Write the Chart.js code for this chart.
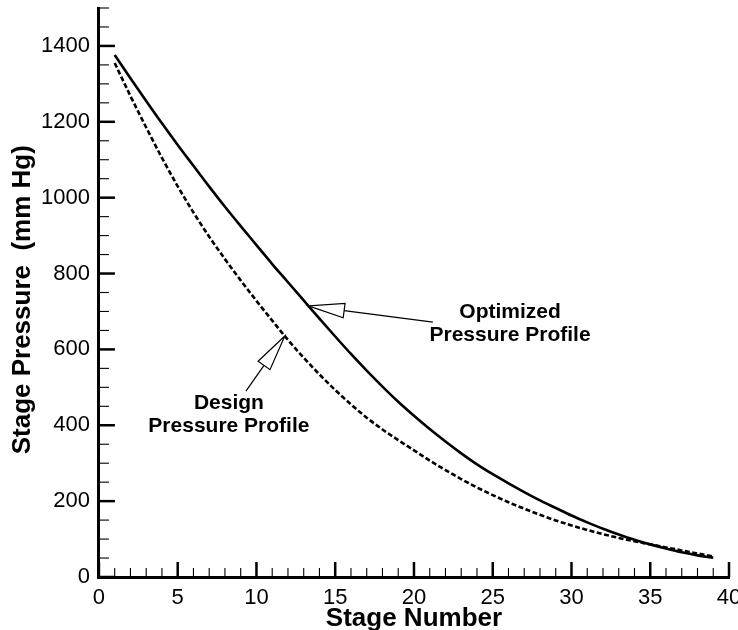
<!DOCTYPE html>
<html>
<head>
<meta charset="utf-8">
<script src="https://cdn.jsdelivr.net/npm/chart.js@4/dist/chart.umd.min.js"></script>
<style>
  html, body { margin: 0; padding: 0; background: #fff; overflow: hidden; }
  #wrap { width: 738px; height: 630px; position: relative; }
</style>
</head>
<body>
<div id="wrap"><canvas id="c"></canvas></div>
<script>
// Stage numbers along the cascade
const stages = [1, 2, 3, 4, 5, 6, 7, 8, 9, 10, 11, 12, 13, 14, 15, 16, 17, 18, 19, 20,
                21, 22, 23, 24, 25, 26, 27, 28, 29, 30, 31, 32, 33, 34, 35, 36, 37, 38, 39];

// Stage pressure (mm Hg), optimized profile
const optimizedPressure = [1376, 1315, 1255, 1196, 1139, 1084, 1029, 976, 925, 875,
                           825, 777, 729, 681, 634, 588, 544, 502, 462, 425,
                           390, 357, 326, 297, 271, 247, 224, 202, 182, 162,
                           144, 127, 112, 98, 86, 75, 65, 57, 51];

// Stage pressure (mm Hg), design profile
const designPressure = [1355, 1268, 1185, 1105, 1030, 961, 897, 838, 782, 728,
                        676, 625, 578, 534, 493, 455, 420, 389, 361, 334,
                        307, 282, 258, 236, 216, 197, 180, 164, 149, 136,
                        124, 113, 103, 94, 86, 78, 70, 62, 54];

// Labelled tick values
const xTickValues = [0, 5, 10, 15, 20, 25, 30, 35, 40];
const yTickValues = [0, 200, 400, 600, 800, 1000, 1200, 1400];

// Callout labels: text lines, which series the arrow points at, and anchors in data units
const calloutLines = [['Optimized', 'Pressure Profile'], ['Design', 'Pressure Profile']];
const calloutSeries = [0, 1];
const calloutTipStage = [13.3, 11.8];
const calloutTail = [[21.2, 672], [9.33, 490]];
const calloutText = [[26.1, 668], [8.25, 428]];

function valueAt(series, s) {
  for (let i = 0; i < stages.length - 1; i++) {
    if (s >= stages[i] && s <= stages[i + 1]) {
      const t = (s - stages[i]) / (stages[i + 1] - stages[i]);
      return series[i] + t * (series[i + 1] - series[i]);
    }
  }
  return series[series.length - 1];
}

const seriesList = [optimizedPressure, designPressure];

// Inward-pointing major and minor tick marks on both axes
const innerTicks = {
  id: 'innerTicks',
  afterDatasetsDraw(chart) {
    const { ctx, chartArea, scales } = chart;
    ctx.save();
    ctx.strokeStyle = '#000';
    for (let v = 0; v <= 40; v++) {
      const major = v % 5 === 0;
      const px = scales.x.getPixelForValue(v);
      ctx.lineWidth = major ? 2.5 : 1.1;
      ctx.beginPath();
      ctx.moveTo(px, chartArea.bottom);
      ctx.lineTo(px, chartArea.bottom - (major ? 15 : 9));
      ctx.stroke();
    }
    for (let v = 0; v <= 1500; v += 50) {
      const major = v % 200 === 0;
      const py = scales.y.getPixelForValue(v);
      ctx.lineWidth = major ? 2.5 : 1.1;
      ctx.beginPath();
      ctx.moveTo(chartArea.left, py);
      ctx.lineTo(chartArea.left + (major ? 16 : 10), py);
      ctx.stroke();
    }
    ctx.restore();
  }
};

// Text callouts with open-headed arrows pointing at the curves
const callouts = {
  id: 'callouts',
  afterDatasetsDraw(chart) {
    const { ctx, scales } = chart;
    const X = v => scales.x.getPixelForValue(v);
    const Y = v => scales.y.getPixelForValue(v);
    ctx.save();
    calloutLines.forEach((lines, k) => {
      const s = calloutTipStage[k];
      const tx = X(s), ty = Y(valueAt(seriesList[calloutSeries[k]], s));
      const ex = X(calloutTail[k][0]), ey = Y(calloutTail[k][1]);
      const dx = ex - tx, dy = ey - ty;
      const len = Math.hypot(dx, dy);
      const ux = dx / len, uy = dy / len;
      const nx = -uy, ny = ux;
      const headLen = 36, halfW = 7.3;
      const bx = tx + ux * headLen, by = ty + uy * headLen;
      ctx.strokeStyle = '#000';
      ctx.lineWidth = 1.2;
      ctx.beginPath();
      ctx.moveTo(bx, by);
      ctx.lineTo(ex, ey);
      ctx.stroke();
      ctx.beginPath();
      ctx.moveTo(tx, ty);
      ctx.lineTo(bx + nx * halfW, by + ny * halfW);
      ctx.lineTo(bx - nx * halfW, by - ny * halfW);
      ctx.closePath();
      ctx.fillStyle = '#fff';
      ctx.fill();
      ctx.stroke();

      ctx.fillStyle = '#000';
      ctx.font = 'bold 21px "Liberation Sans", Arial, sans-serif';
      ctx.textAlign = 'center';
      ctx.textBaseline = 'middle';
      const cx = X(calloutText[k][0]), cy = Y(calloutText[k][1]);
      const lh = 23;
      lines.forEach((line, i) => {
        ctx.fillText(line, cx, cy + (i - (lines.length - 1) / 2) * lh);
      });
    });
    ctx.restore();
  }
};

Chart.defaults.color = '#000';
Chart.defaults.font.family = '"Liberation Sans", Arial, sans-serif';

new Chart(document.getElementById('c'), {
  type: 'line',
  data: {
    datasets: [
      {
        label: 'Optimized Pressure Profile',
        data: stages.map((s, i) => ({ x: s, y: optimizedPressure[i] })),
        borderColor: '#000',
        borderWidth: 2.6,
        pointRadius: 0,
        cubicInterpolationMode: 'monotone',
        fill: false
      },
      {
        label: 'Design Pressure Profile',
        data: stages.map((s, i) => ({ x: s, y: designPressure[i] })),
        borderColor: '#000',
        borderWidth: 2.6,
        borderDash: [5, 2.5],
        pointRadius: 0,
        cubicInterpolationMode: 'monotone',
        fill: false
      }
    ]
  },
  options: {
    responsive: true,
    maintainAspectRatio: false,
    animation: false,
    events: [],
    layout: { padding: { left: 10, right: 9, top: 8, bottom: 0 } },
    plugins: {
      legend: { display: false },
      tooltip: { enabled: false }
    },
    scales: {
      x: {
        type: 'linear',
        min: 0,
        max: 40,
        afterBuildTicks: scale => { scale.ticks = xTickValues.map(v => ({ value: v })); },
        afterFit: scale => {
          scale.paddingRight = 0;
          scale.paddingLeft = 0;
          scale.height -= scale.options.ticks.padding;
        },
        grid: { display: true, drawOnChartArea: false, drawTicks: false },
        border: { display: true, width: 3, color: '#000' },
        ticks: {
          padding: 10,
          maxRotation: 0,
          autoSkip: false,
          callback: v => String(v),
          font: { size: 22, lineHeight: 1 },
          color: '#000'
        },
        title: {
          display: true,
          text: 'Stage Number',
          font: { size: 26, weight: 'bold', lineHeight: 1 },
          padding: { top: -3, bottom: -2 },
          color: '#000'
        }
      },
      y: {
        type: 'linear',
        min: 0,
        max: 1500,
        afterBuildTicks: scale => { scale.ticks = yTickValues.map(v => ({ value: v })); },
        afterFit: scale => {
          scale.paddingTop = 0;
          scale.paddingBottom = 0;
          scale.width -= scale.options.ticks.padding;
        },
        grid: { display: true, drawOnChartArea: false, drawTicks: false },
        border: { display: true, width: 3, color: '#000' },
        ticks: {
          padding: 9,
          autoSkip: false,
          callback: v => String(v),
          font: { size: 22, lineHeight: 1 },
          color: '#000'
        },
        title: {
          display: true,
          text: 'Stage Pressure  (mm Hg)  ',
          font: { size: 26, weight: 'bold', lineHeight: 1 },
          padding: { top: 0, bottom: 5 },
          color: '#000'
        }
      }
    }
  },
  plugins: [innerTicks, callouts]
});
</script>
</body>
</html>
